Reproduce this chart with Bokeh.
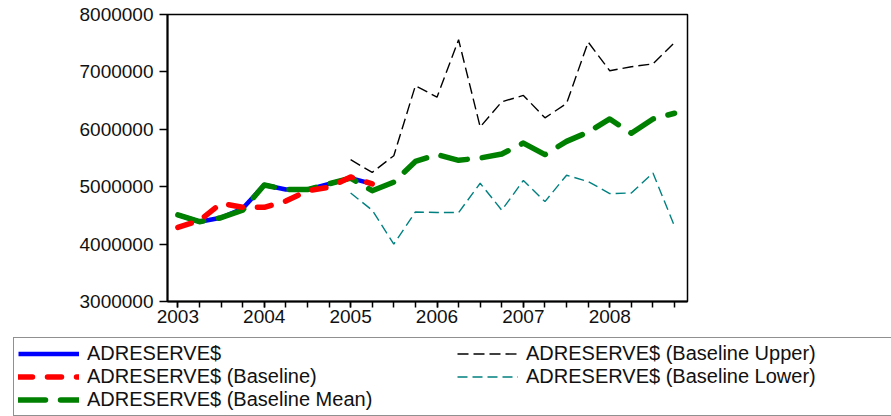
import numpy as np
from bokeh.plotting import figure
from bokeh.layouts import column
from bokeh.models import Range1d, FixedTicker, Legend, LegendItem
from bokeh.embed import file_html
from bokeh.resources import INLINE

# ---- data (quarterly, 2003Q1 .. 2008Q4) ----
years = [2003, 2004, 2005, 2006, 2007, 2008]
quarters = [f"{y}Q{q}" for y in years for q in range(1, 5)]
xq = [int(s[:4]) + (int(s[-1]) - 1) / 4 for s in quarters]

actual = [4510000, 4390000, 4460000, 4620000, 5030000, 4950000, 4950000,
          5050000, 5150000, 5050000]
baseline = [4290000, 4410000, 4710000, 4640000, 4640000, 4750000, 4930000,
            4990000, 5170000, 5050000]
baseline_mean = [4510000, 4390000, 4460000, 4590000, 5030000, 4950000,
                 4950000, 5050000, 5150000, 4930000, 5080000, 5440000,
                 5560000, 5460000, 5500000, 5570000, 5760000, 5560000,
                 5790000, 5950000, 6180000, 5930000, 6180000, 6280000]
# upper/lower bands start at 2005Q1
band_start = "2005Q1"
baseline_upper = [5470000, 5250000, 5540000, 6760000, 6560000, 7560000,
                  6040000, 6480000, 6590000, 6200000, 6450000, 7520000,
                  7020000, 7090000, 7140000, 7510000]
baseline_lower = [4890000, 4590000, 4000000, 4560000, 4550000, 4550000,
                  5060000, 4590000, 5110000, 4740000, 5200000, 5090000,
                  4880000, 4890000, 5240000, 4310000]

ytick_values = [3000000, 4000000, 5000000, 6000000, 7000000, 8000000]
ytick_labels = ["3000000", "4000000", "5000000", "6000000", "7000000", "8000000"]
xtick_labels = ["2003", "2004", "2005", "2006", "2007", "2008"]

labels = ["ADRESERVE$", "ADRESERVE$ (Baseline)", "ADRESERVE$ (Baseline Mean)",
          "ADRESERVE$ (Baseline Upper)", "ADRESERVE$ (Baseline Lower)"]

# ---- styles ----
FONT = "Liberation Sans"
st_act = dict(line_color="#0000FF", line_width=4.5, line_join="round")
st_base = dict(line_color="#FF0000", line_width=5.5, line_dash="14 15",
               line_cap="round", line_join="round")
st_mean = dict(line_color="#008000", line_width=5.5, line_dash="27 15",
               line_cap="round", line_join="round")
st_up = dict(line_color="black", line_width=1.4, line_dash="11 5")
st_lo = dict(line_color="#008080", line_width=1.4, line_dash="10 5")

bi = quarters.index(band_start)
x_act = xq[:len(actual)]
x_base = xq[:len(baseline)]
x_mean = xq[:len(baseline_mean)]
x_band = xq[bi:bi + len(baseline_upper)]
series = [(x_act, actual, st_act), (x_base, baseline, st_base),
          (x_mean, baseline_mean, st_mean), (x_band, baseline_upper, st_up),
          (x_band, baseline_lower, st_lo)]

# ---- chart figure ----
p = figure(width=891, height=336, output_backend="svg", toolbar_location=None,
           x_range=Range1d(2002.88, 2008.9), y_range=Range1d(3000000, 8000000),
           min_border_left=167, min_border_right=204, min_border_top=14,
           min_border_bottom=35)
p.background_fill_color = "white"
p.border_fill_color = "white"
p.outline_line_color = "black"
p.outline_line_width = 1.5
p.xgrid.visible = False
p.ygrid.visible = False

# drawing order: actual, mean, baseline, upper, lower
for idx in (0, 2, 1, 3, 4):
    xs, ys, st = series[idx]
    p.line(xs, ys, **st)

p.yaxis.ticker = FixedTicker(ticks=ytick_values)
p.yaxis.major_label_overrides = {v: l for v, l in zip(ytick_values, ytick_labels)}
p.yaxis.major_tick_out = 8
p.yaxis.major_tick_in = 0
p.yaxis.minor_tick_out = 0
p.yaxis.minor_tick_in = 0
p.yaxis.major_label_standoff = 6

p.xaxis.ticker = FixedTicker(ticks=years, minor_ticks=xq)
p.xaxis.major_label_overrides = {y: l for y, l in zip(years, xtick_labels)}
p.xaxis.major_tick_out = 6
p.xaxis.major_tick_in = 0
p.xaxis.minor_tick_out = 6
p.xaxis.minor_tick_in = 0
p.xaxis.major_label_standoff = 2

for ax in (p.xaxis[0], p.yaxis[0]):
    ax.axis_line_width = 2
    ax.axis_line_color = "black"
    ax.major_tick_line_color = "black"
    ax.minor_tick_line_color = "black"
    ax.major_tick_line_width = 1.5
    ax.minor_tick_line_width = 1.5
    ax.major_label_text_font = FONT
    ax.major_label_text_font_size = "19px"
    ax.major_label_text_color = "#111111"

# ---- legend strip (keys carry the chart's series & styles, kept out of view) ----
lg = figure(width=891, height=80, output_backend="svg", toolbar_location=None,
            x_range=Range1d(0, 1), y_range=Range1d(0, 1),
            x_axis_location=None, y_axis_location=None,
            min_border=0, outline_line_color=None)
lg.frame_align = False
lg.xgrid.visible = False
lg.ygrid.visible = False
keys = [lg.line(xs, ys, **st) for xs, ys, st in series]
items = [LegendItem(label=l, renderers=[r]) for l, r in zip(labels, keys)]
legend = Legend(items=items, location=(13, 0), orientation="vertical",
                nrows=3, glyph_width=61, glyph_height=21, label_height=21,
                label_width=370, label_standoff=8, padding=4, spacing=0,
                margin=0, border_line_color="#222222", border_line_width=1.2,
                background_fill_color="white", background_fill_alpha=1.0,
                label_text_font=FONT, label_text_font_size="20px",
                label_text_color="#111111", label_text_baseline="middle")
lg.add_layout(legend, "center")

layout = column(p, lg, spacing=0)
open("out.html", "w").write(file_html(layout, INLINE))
